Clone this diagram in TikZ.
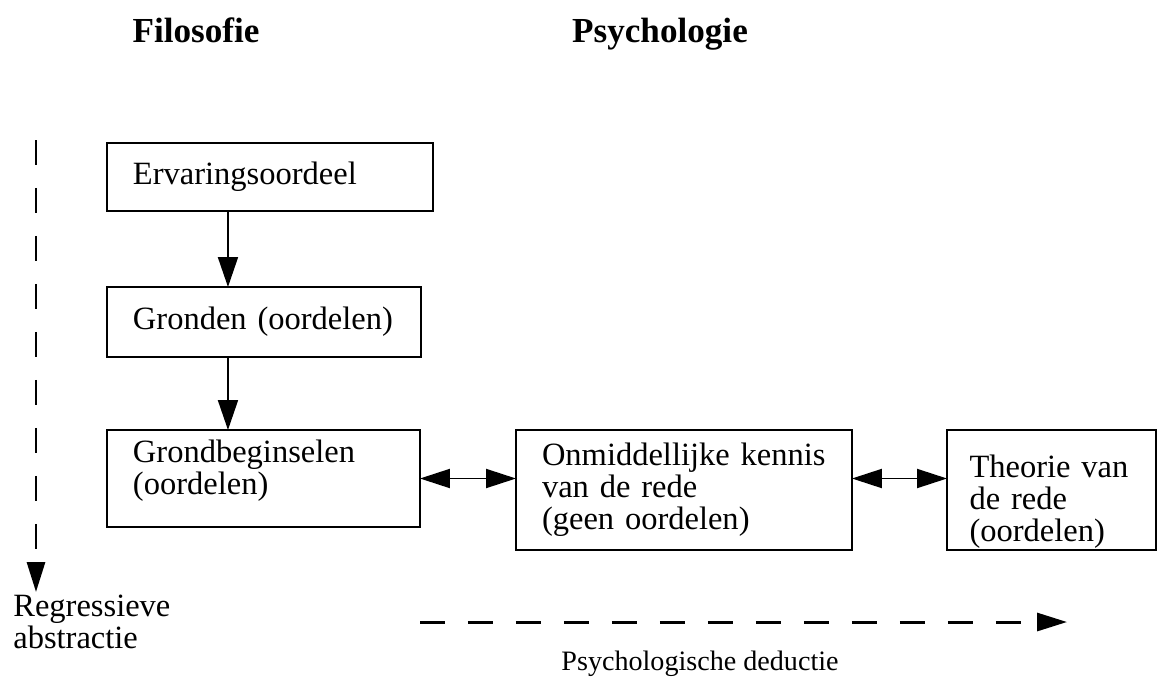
\documentclass[tikz,border=0pt]{standalone}
\usepackage{fontspec}
\setmainfont{Liberation Serif}
\usetikzlibrary{arrows.meta}

\begin{document}
\begin{tikzpicture}[x=0.02cm, y=-0.02cm,
		box/.style={draw, line width=1.5pt, outer sep=0pt, anchor=north west, align=left, inner xsep=0.52cm, font=\fontsize{18.5pt}{18.2pt}\selectfont},
		heading/.style={font=\fontsize{20pt}{24pt}\selectfont\bfseries, inner sep=0pt},
		caption/.style={font=\fontsize{18.5pt}{18.2pt}\selectfont, inner sep=0pt, align=left},
		arrow/.style={line width=1.1pt, -{Triangle[length=0.6cm, width=0.4cm]}},
		both/.style={line width=1.1pt, {Triangle[length=0.6cm, width=0.38cm]}-{Triangle[length=0.6cm, width=0.38cm]}},
		dashline/.style={line width=1.7pt, dash pattern=on 0.5cm off 0.46cm, -{Triangle[length=0.6cm, width=0.36cm]}}]
		\useasboundingbox (0,0) rectangle (1158,677);
		
		% Headings
		\node[heading, anchor=base] (filosofie) at (196,42) {Filosofie};
		\node[heading, anchor=base] (psychologie) at (660,42) {Psychologie};
		
		% Boxes
		\node[box, minimum width=6.52cm, minimum height=1.36cm, text width=5.48cm] (ervaring) at (107,143) {Ervaringsoordeel};
		\node[box, minimum width=6.28cm, minimum height=1.40cm, text width=5.24cm] (gronden) at (107,287) {Gronden (oordelen)};
		\node[box, minimum width=6.26cm, minimum height=1.94cm, text width=5.22cm] (grondbeginselen) at (107,430) {Grondbeginselen\\(oordelen)\rule[-0.46cm]{0pt}{0.46cm}};
		\node[box, minimum width=6.72cm, minimum height=2.4cm, text width=5.68cm] (kennis) at (516,430) {Onmiddellijke kennis\\van de rede\\(geen oordelen)};
		\node[box, minimum width=4.18cm, minimum height=2.4cm, inner xsep=0.45cm, inner ysep=0pt, text width=3.28cm] (theorie) at (947,430) {\rule{0pt}{0.9cm}Theorie van\\de rede\\(oordelen)};
		
		% Captions
		\node[caption, anchor=north west] (regressie) at (13,595) {Regressieve\\abstractie};
		\node[caption, anchor=base, font=\fontsize{16pt}{18pt}\selectfont] (deductie) at (700,670) {Psychologische deductie};
		
		% Free ends of the dashed arrows
		\coordinate (regressiestart) at (36,140);
		\coordinate (regressieeind) at (36,592);
		\coordinate (deductiestart) at (420,622);
		\coordinate (deductieeind) at (1067,622);
		
		% Edges
		\draw[arrow] ([xshift=2.42cm]ervaring.south west) -- ([xshift=2.42cm]gronden.north west);
		\draw[arrow] ([xshift=2.42cm]gronden.south west) -- ([xshift=2.42cm]grondbeginselen.north west);
		\draw[both] (grondbeginselen.east) -- (grondbeginselen.east -| kennis.west);
		\draw[both] (grondbeginselen.east -| kennis.east) -- (grondbeginselen.east -| theorie.west);
		\draw[dashline] (regressiestart) -- (regressieeind);
		\draw[dashline] (deductiestart) -- (deductieeind);
	\end{tikzpicture}
\end{document}
